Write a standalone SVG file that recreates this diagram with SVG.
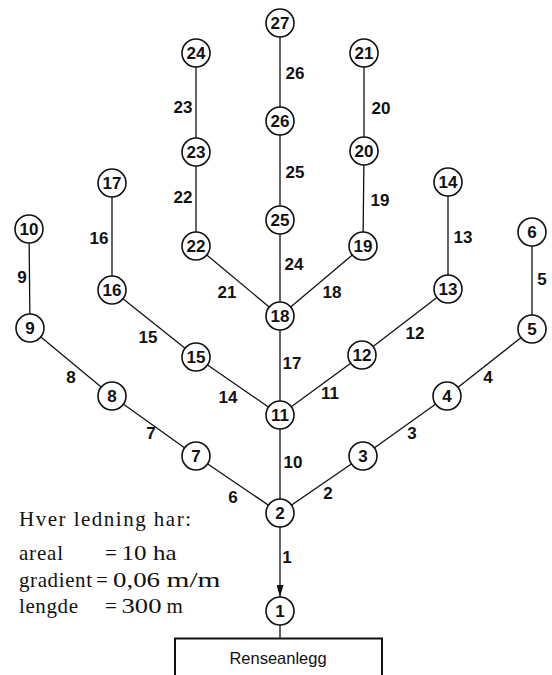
<svg xmlns="http://www.w3.org/2000/svg" width="552" height="675" viewBox="0 0 552 675">
<style>
.e{stroke:#111;stroke-width:1.3;fill:none}
.n circle{fill:#fff;stroke:#111;stroke-width:1.6}
.n text,.lbl{font-family:"Liberation Sans",Arial,sans-serif;font-weight:bold;font-size:17px;fill:#111;text-anchor:middle}
.lg{font-family:"Liberation Serif","Times New Roman",serif;font-size:21px;fill:#111}
</style>
<defs>
<marker id="ah" markerWidth="12" markerHeight="7" refX="12" refY="3.5" orient="auto" markerUnits="userSpaceOnUse" viewBox="0 0 12 7">
<path d="M0,0 L12,3.5 L0,7 Z" fill="#111"/>
</marker>
</defs>
<rect width="552" height="675" fill="#fff"/>
<g id="connectors">
<line class="e" x1="280" y1="513" x2="280" y2="597" marker-end="url(#ah)"/>
<line class="e" x1="280" y1="625" x2="280" y2="638"/>
<line class="e" x1="280" y1="513" x2="363" y2="456"/>
<line class="e" x1="363" y1="456" x2="447" y2="396"/>
<line class="e" x1="447" y1="396" x2="532" y2="329"/>
<line class="e" x1="532" y1="329" x2="532" y2="232"/>
<line class="e" x1="280" y1="513" x2="196" y2="456"/>
<line class="e" x1="196" y1="456" x2="112" y2="396"/>
<line class="e" x1="112" y1="396" x2="30" y2="328"/>
<line class="e" x1="30" y1="328" x2="29" y2="229"/>
<line class="e" x1="280" y1="513" x2="280" y2="415"/>
<line class="e" x1="280" y1="415" x2="362" y2="355"/>
<line class="e" x1="362" y1="355" x2="448" y2="289"/>
<line class="e" x1="448" y1="289" x2="448" y2="182"/>
<line class="e" x1="280" y1="415" x2="196" y2="357"/>
<line class="e" x1="196" y1="357" x2="112" y2="290"/>
<line class="e" x1="112" y1="290" x2="112" y2="183"/>
<line class="e" x1="280" y1="415" x2="280" y2="316"/>
<line class="e" x1="280" y1="316" x2="363" y2="246"/>
<line class="e" x1="363" y1="246" x2="364" y2="151"/>
<line class="e" x1="364" y1="151" x2="364" y2="53"/>
<line class="e" x1="280" y1="316" x2="196" y2="246"/>
<line class="e" x1="196" y1="246" x2="196" y2="152"/>
<line class="e" x1="196" y1="152" x2="196" y2="53"/>
<line class="e" x1="280" y1="316" x2="280" y2="220"/>
<line class="e" x1="280" y1="220" x2="280" y2="121"/>
<line class="e" x1="280" y1="121" x2="280" y2="23"/>
<g id="edge-labels">
<text class="lbl" x="287" y="563">1</text>
<text class="lbl" x="328" y="499">2</text>
<text class="lbl" x="412" y="439">3</text>
<text class="lbl" x="488" y="383">4</text>
<text class="lbl" x="542" y="285">5</text>
<text class="lbl" x="233" y="503">6</text>
<text class="lbl" x="151" y="439">7</text>
<text class="lbl" x="71" y="383">8</text>
<text class="lbl" x="22" y="283">9</text>
<text class="lbl" x="293" y="468">10</text>
<text class="lbl" x="330" y="399">11</text>
<text class="lbl" x="415" y="339">12</text>
<text class="lbl" x="463" y="243">13</text>
<text class="lbl" x="228" y="403">14</text>
<text class="lbl" x="148" y="343">15</text>
<text class="lbl" x="99" y="244">16</text>
<text class="lbl" x="292" y="369">17</text>
<text class="lbl" x="332" y="298">18</text>
<text class="lbl" x="380" y="206">19</text>
<text class="lbl" x="381" y="114">20</text>
<text class="lbl" x="227" y="298">21</text>
<text class="lbl" x="183" y="203">22</text>
<text class="lbl" x="183" y="113">23</text>
<text class="lbl" x="294" y="270">24</text>
<text class="lbl" x="295" y="178">25</text>
<text class="lbl" x="295" y="79">26</text>
</g>
</g>
<g id="n1" class="n"><circle cx="280" cy="611" r="14"/><text x="280" y="617">1</text></g>
<g id="n2" class="n"><circle cx="280" cy="513" r="14"/><text x="280" y="519">2</text></g>
<g id="n3" class="n"><circle cx="363" cy="456" r="14"/><text x="363" y="462">3</text></g>
<g id="n4" class="n"><circle cx="447" cy="396" r="14"/><text x="447" y="402">4</text></g>
<g id="n5" class="n"><circle cx="532" cy="329" r="14"/><text x="532" y="335">5</text></g>
<g id="n6" class="n"><circle cx="532" cy="232" r="14"/><text x="532" y="238">6</text></g>
<g id="n7" class="n"><circle cx="196" cy="456" r="14"/><text x="196" y="462">7</text></g>
<g id="n8" class="n"><circle cx="112" cy="396" r="14"/><text x="112" y="402">8</text></g>
<g id="n9" class="n"><circle cx="30" cy="328" r="14"/><text x="30" y="334">9</text></g>
<g id="n10" class="n"><circle cx="29" cy="229" r="14"/><text x="29" y="235">10</text></g>
<g id="n11" class="n"><circle cx="280" cy="415" r="14"/><text x="280" y="421">11</text></g>
<g id="n12" class="n"><circle cx="362" cy="355" r="14"/><text x="362" y="361">12</text></g>
<g id="n13" class="n"><circle cx="448" cy="289" r="14"/><text x="448" y="295">13</text></g>
<g id="n14" class="n"><circle cx="448" cy="182" r="14"/><text x="448" y="188">14</text></g>
<g id="n15" class="n"><circle cx="196" cy="357" r="14"/><text x="196" y="363">15</text></g>
<g id="n16" class="n"><circle cx="112" cy="290" r="14"/><text x="112" y="296">16</text></g>
<g id="n17" class="n"><circle cx="112" cy="183" r="14"/><text x="112" y="189">17</text></g>
<g id="n18" class="n"><circle cx="280" cy="316" r="14"/><text x="280" y="322">18</text></g>
<g id="n19" class="n"><circle cx="363" cy="246" r="14"/><text x="363" y="252">19</text></g>
<g id="n20" class="n"><circle cx="364" cy="151" r="14"/><text x="364" y="157">20</text></g>
<g id="n21" class="n"><circle cx="364" cy="53" r="14"/><text x="364" y="59">21</text></g>
<g id="n22" class="n"><circle cx="196" cy="246" r="14"/><text x="196" y="252">22</text></g>
<g id="n23" class="n"><circle cx="196" cy="152" r="14"/><text x="196" y="158">23</text></g>
<g id="n24" class="n"><circle cx="196" cy="53" r="14"/><text x="196" y="59">24</text></g>
<g id="n25" class="n"><circle cx="280" cy="220" r="14"/><text x="280" y="226">25</text></g>
<g id="n26" class="n"><circle cx="280" cy="121" r="14"/><text x="280" y="127">26</text></g>
<g id="n27" class="n"><circle cx="280" cy="23" r="14"/><text x="280" y="29">27</text></g>
<g id="renseanlegg">
<path d="M175,680 L175,638.5 L382,638.5 L382,680" fill="#fff" stroke="#111" stroke-width="2"/>
<text x="278" y="664" font-family="'Liberation Sans',Arial,sans-serif" font-size="16.5" fill="#111" text-anchor="middle">Renseanlegg</text>
</g>
<g id="legend">
<text class="lg" x="19" y="526" textLength="172" lengthAdjust="spacing">Hver ledning har:</text>
<text class="lg" x="19" y="560" textLength="44" lengthAdjust="spacing">areal</text>
<text class="lg" x="105" y="560">=</text>
<text class="lg" x="121.5" y="560" textLength="25" lengthAdjust="spacingAndGlyphs">10</text>
<text class="lg" x="153" y="560" textLength="23.5" lengthAdjust="spacingAndGlyphs">ha</text>
<text class="lg" x="19" y="587" textLength="73" lengthAdjust="spacing">gradient</text>
<text class="lg" x="96" y="587">=</text>
<text class="lg" x="113" y="587" textLength="47" lengthAdjust="spacingAndGlyphs">0,06</text>
<text class="lg" x="166.5" y="587" textLength="54" lengthAdjust="spacingAndGlyphs">m/m</text>
<text class="lg" x="19" y="613" textLength="59" lengthAdjust="spacing">lengde</text>
<text class="lg" x="105" y="613">=</text>
<text class="lg" x="121.5" y="613" textLength="40" lengthAdjust="spacingAndGlyphs">300</text>
<text class="lg" x="166.5" y="613">m</text>
</g>
</svg>
